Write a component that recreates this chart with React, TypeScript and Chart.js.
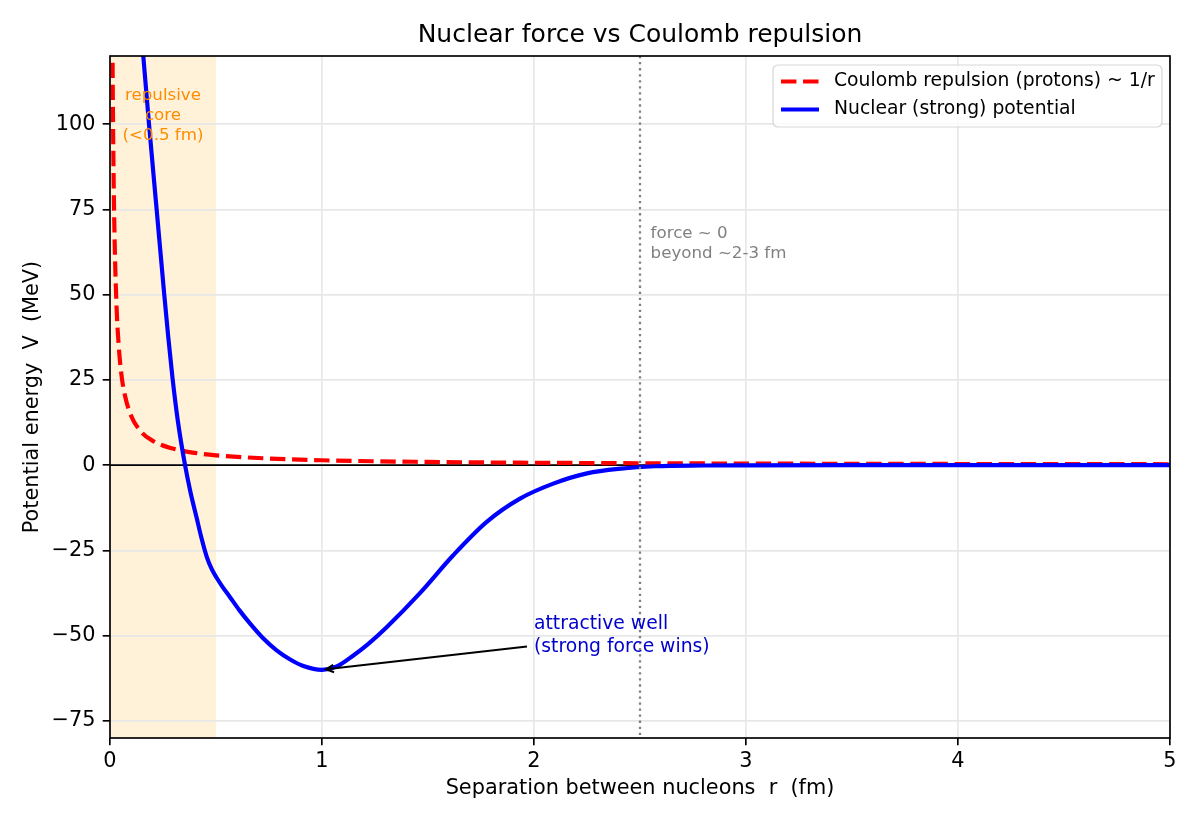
import React, { useEffect, useRef } from "react";
import { Chart, registerables } from "chart.js";

Chart.register(...registerables);

// Axis ticks
const xTicks = [0, 1, 2, 3, 4, 5];
const yTicks = [-75, -50, -25, 0, 25, 50, 75, 100];

// Coulomb repulsion between two protons (fm, MeV)
const coulombR = [0.01, 0.012, 0.015, 0.02, 0.03, 0.04, 0.055, 0.07, 0.1, 0.15, 0.2, 0.3, 0.4, 0.5, 0.7, 1.0, 1.5, 2.0, 2.5, 3.0, 4.0, 5.0];
const coulombV = [144, 120, 96, 72, 48, 36, 26, 20.6, 14.4, 9.6, 7.2, 4.8, 3.6, 2.9, 2.1, 1.44, 0.96, 0.72, 0.58, 0.48, 0.36, 0.29];

// Nuclear (strong) potential (fm, MeV)
const nuclearR = [0.14, 0.157, 0.184, 0.22, 0.256, 0.275, 0.295, 0.32, 0.354, 0.38, 0.409, 0.43, 0.456, 0.48, 0.503, 0.53, 0.566, 0.61, 0.66, 0.72, 0.786, 0.85, 0.912, 1.0, 1.07, 1.148, 1.22, 1.305, 1.462, 1.619, 1.777, 1.934, 2.091, 2.25, 2.41, 2.57, 2.8, 3.0, 3.5, 5.0];
const nuclearV = [132, 120, 100, 75, 50, 37.5, 25.5, 13, 0, -8, -15.5, -21, -26.8, -30.5, -33, -35.6, -38.7, -42.5, -46.4, -50.6, -54.3, -57, -58.9, -60, -59.0, -55.8, -52.3, -47.5, -37.5, -26.4, -16.6, -9.8, -5.4, -2.4, -1.0, -0.3, -0.08, -0.03, 0, 0];

// Annotated features
const coreEdge = 0.5;
const cutoffR = 2.5;
const wellR = 1.0;
const wellV = -60;

const X_MIN = 0;
const X_MAX = 5;
const Y_MIN = -80;
const Y_MAX = 120;

const PT = 150 / 72;
const FONT = '"DejaVu Sans", "Liberation Sans", sans-serif';
const font = (pt: number) => `${pt * PT}px ${FONT}`;

const toPoints = (xs: number[], ys: number[]) => xs.map((x, i) => ({ x, y: ys[i] }));

const drawLines = (ctx: CanvasRenderingContext2D, lines: string[], x: number, cy: number, lh: number) => {
  const n = lines.length;
  lines.forEach((t, i) => {
    ctx.fillText(t, x, cy + (i - (n - 1) / 2) * lh);
  });
};

const decor = {
  id: "decor",
  beforeDraw(chart: any) {
    const { ctx, chartArea: a, scales } = chart;
    const x = scales.x;
    ctx.save();
    ctx.fillStyle = "#ffffff";
    ctx.fillRect(0, 0, chart.width, chart.height);
    const x0 = x.getPixelForValue(0);
    const x1 = x.getPixelForValue(coreEdge);
    ctx.fillStyle = "rgba(255,165,0,0.15)";
    ctx.fillRect(x0, a.top, x1 - x0, a.bottom - a.top);
    ctx.restore();
  },
  beforeDatasetsDraw(chart: any) {
    const { ctx, chartArea: a, scales } = chart;
    const y0 = scales.y.getPixelForValue(0);
    ctx.save();
    ctx.strokeStyle = "#000000";
    ctx.lineWidth = 0.8 * PT;
    ctx.beginPath();
    ctx.moveTo(a.left, y0);
    ctx.lineTo(a.right, y0);
    ctx.stroke();
    ctx.restore();
  },
  afterDatasetsDraw(chart: any) {
    const { ctx, chartArea: a, scales } = chart;
    const xs = scales.x;
    const ys = scales.y;
    ctx.save();

    // cutoff marker
    const xc = xs.getPixelForValue(cutoffR);
    ctx.strokeStyle = "#808080";
    ctx.lineWidth = 1.1 * PT;
    ctx.setLineDash([1.1 * PT, 1.8 * PT]);
    ctx.beginPath();
    ctx.moveTo(xc, a.top);
    ctx.lineTo(xc, a.bottom);
    ctx.stroke();
    ctx.setLineDash([]);

    // frame
    ctx.strokeStyle = "#000000";
    ctx.lineWidth = 0.8 * PT;
    ctx.strokeRect(a.left, a.top, a.right - a.left, a.bottom - a.top);

    // repulsive core label
    ctx.fillStyle = "#ff8c00";
    ctx.font = font(8);
    ctx.textAlign = "center";
    ctx.textBaseline = "middle";
    drawLines(ctx, ["repulsive", "core", "(<0.5 fm)"], xs.getPixelForValue(coreEdge / 2), ys.getPixelForValue(102.5), 8 * PT * 1.2);

    // range note
    ctx.fillStyle = "#808080";
    ctx.textAlign = "left";
    drawLines(ctx, ["force ~ 0", "beyond ~2-3 fm"], xs.getPixelForValue(2.55), ys.getPixelForValue(65), 8 * PT * 1.2);

    // attractive well annotation
    const tx = xs.getPixelForValue(2.0);
    const tcy = ys.getPixelForValue(-50);
    ctx.font = font(9);
    ctx.fillStyle = "mediumblue";
    const lines = ["attractive well", "(strong force wins)"];
    const tw = Math.max(...lines.map((l) => ctx.measureText(l).width));
    drawLines(ctx, lines, tx, tcy, 9 * PT * 1.2);

    const cx = tx + tw / 2;
    const px = xs.getPixelForValue(wellR);
    const py = ys.getPixelForValue(wellV);
    const sx = tx - 7;
    const sy = tcy + ((cx - sx) / (cx - px)) * (py - tcy);
    const ang = Math.atan2(py - sy, px - sx);
    const ex = px - Math.cos(ang) * 2 * PT;
    const ey = py - Math.sin(ang) * 2 * PT;
    ctx.strokeStyle = "#000000";
    ctx.lineWidth = 1.0 * PT;
    ctx.beginPath();
    ctx.moveTo(sx, sy);
    ctx.lineTo(ex, ey);
    ctx.stroke();
    const hl = 3.6 * PT;
    const hw = 1.8 * PT;
    const bx = ex - Math.cos(ang) * hl;
    const by = ey - Math.sin(ang) * hl;
    ctx.beginPath();
    ctx.moveTo(bx - Math.sin(ang) * hw, by + Math.cos(ang) * hw);
    ctx.lineTo(ex, ey);
    ctx.lineTo(bx + Math.sin(ang) * hw, by - Math.cos(ang) * hw);
    ctx.stroke();

    // legend
    const L = a.right - 397;
    const T = a.top + 9;
    const W = 389;
    const H = 62;
    ctx.fillStyle = "rgba(255,255,255,0.8)";
    ctx.strokeStyle = "rgba(204,204,204,0.8)";
    ctx.lineWidth = 1.2;
    ctx.beginPath();
    ctx.roundRect(L, T, W, H, 5);
    ctx.fill();
    ctx.stroke();
    const r1 = T + 16.5;
    const r2 = T + 44.5;
    ctx.lineWidth = 2 * PT;
    ctx.strokeStyle = "red";
    ctx.setLineDash([3.7 * 2 * PT, 1.6 * 2 * PT]);
    ctx.beginPath();
    ctx.moveTo(L + 8, r1);
    ctx.lineTo(L + 46, r1);
    ctx.stroke();
    ctx.setLineDash([]);
    ctx.strokeStyle = "blue";
    ctx.beginPath();
    ctx.moveTo(L + 8, r2);
    ctx.lineTo(L + 46, r2);
    ctx.stroke();
    ctx.fillStyle = "#000000";
    ctx.font = font(9);
    ctx.textAlign = "left";
    ctx.textBaseline = "middle";
    ctx.fillText("Coulomb repulsion (protons) ~ 1/r", L + 61, r1);
    ctx.fillText("Nuclear (strong) potential", L + 61, r2);

    // title and axis labels
    const mx = (a.left + a.right) / 2;
    ctx.textAlign = "center";
    ctx.font = font(12);
    ctx.fillText("Nuclear force vs Coulomb repulsion", mx, 35);
    ctx.font = font(10);
    ctx.fillText("Separation between nucleons  r  (fm)", mx, 789);
    ctx.translate(33, (a.top + a.bottom) / 2);
    ctx.rotate(-Math.PI / 2);
    ctx.fillText("Potential energy  V  (MeV)", 0, 0);
    ctx.restore();
  },
};

const minus = (v: number) => String(v).replace("-", "\u2212");

export default function App() {
  const ref = useRef<HTMLCanvasElement | null>(null);

  useEffect(() => {
    document.body.style.margin = "0";
    const canvas = ref.current;
    if (!canvas) return;
    const gridColor = "#e7e7e7";
    const chart = new Chart(canvas, {
      type: "line",
      data: {
        datasets: [
          {
            label: "Nuclear (strong) potential",
            data: toPoints(nuclearR, nuclearV),
            borderColor: "blue",
            borderWidth: 2 * PT,
            pointRadius: 0,
            cubicInterpolationMode: "monotone",
            fill: false,
            clip: 0,
            order: 0,
          },
          {
            label: "Coulomb repulsion (protons) ~ 1/r",
            data: toPoints(coulombR, coulombV),
            borderColor: "red",
            borderWidth: 2 * PT,
            borderDash: [3.7 * 2 * PT, 1.6 * 2 * PT],
            pointRadius: 0,
            cubicInterpolationMode: "monotone",
            fill: false,
            clip: 0,
            order: 1,
          },
        ],
      },
      options: {
        responsive: false,
        animation: false,
        devicePixelRatio: 1,
        layout: { padding: { top: 56, right: 30, bottom: 0, left: 0 } },
        plugins: {
          legend: { display: false },
          title: { display: false },
          tooltip: { enabled: false },
        },
        events: [],
        scales: {
          x: {
            type: "linear",
            min: X_MIN,
            max: X_MAX,
            afterBuildTicks: (s: any) => {
              s.ticks = xTicks.map((v) => ({ value: v }));
            },
            afterFit: (s: any) => {
              s.height = 87;
            },
            border: { display: false },
            grid: {
              color: gridColor,
              lineWidth: 0.8 * PT,
              tickColor: "#000000",
              tickLength: 3.5 * PT,
              tickWidth: 0.8 * PT,
            },
            ticks: {
              color: "#000000",
              font: { family: FONT, size: 10 * PT },
              padding: 3.5 * PT - 3,
              maxRotation: 0,
              callback: (v: any) => minus(v),
            },
          },
          y: {
            type: "linear",
            min: Y_MIN,
            max: Y_MAX,
            afterBuildTicks: (s: any) => {
              s.ticks = yTicks.map((v) => ({ value: v }));
            },
            afterFit: (s: any) => {
              s.width = 110;
            },
            border: { display: false },
            grid: {
              color: gridColor,
              lineWidth: 0.8 * PT,
              tickColor: "#000000",
              tickLength: 3.5 * PT,
              tickWidth: 0.8 * PT,
            },
            ticks: {
              color: "#000000",
              font: { family: FONT, size: 10 * PT },
              padding: 3.5 * PT,
              callback: (v: any) => minus(v),
            },
          },
        },
      },
      plugins: [decor],
    } as any);
    return () => chart.destroy();
  }, []);

  return <canvas ref={ref} width={1200} height={825} style={{ display: "block" }} />;
}
